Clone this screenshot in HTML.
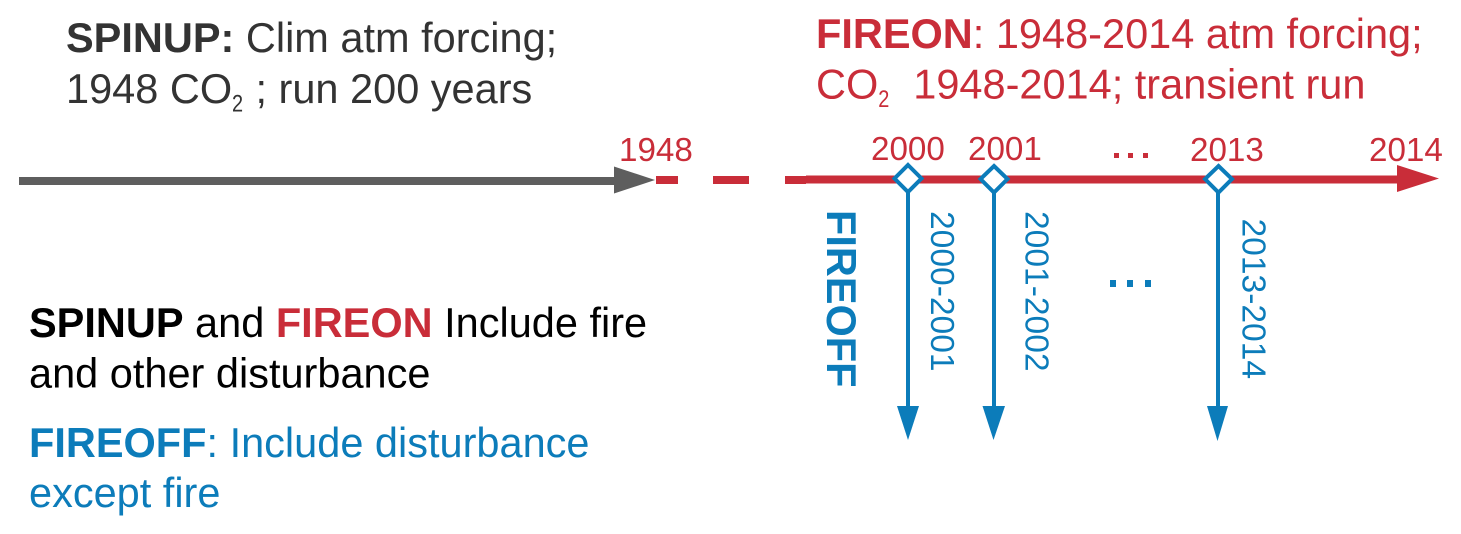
<!DOCTYPE html>
<html>
<head>
<meta charset="utf-8">
<style>
html,body{margin:0;padding:0;background:#fff;width:1461px;height:534px;overflow:hidden}
svg{display:block}
text{font-family:"Liberation Sans",sans-serif;white-space:pre}
</style>
</head>
<body>
<svg width="1461" height="534" viewBox="0 0 1461 534" xmlns="http://www.w3.org/2000/svg">
<rect width="1461" height="534" fill="#fff"/>

<!-- top-left text -->
<g font-size="41.500" fill="#333333">
<text x="66" y="52"><tspan font-weight="bold">SPINUP:</tspan> Clim atm forcing;</text>
<text x="66" y="103">1948 CO<tspan x="243.950"> ; run 200 years</tspan></text>
<text font-size="24" transform="translate(232,111.500) scale(.83,1)">2</text>
</g>

<!-- top-right text -->
<g font-size="41.500" fill="#c92d39">
<text x="816" y="48"><tspan font-weight="bold">FIREON</tspan>: 1948-2014 atm forcing;</text>
<text x="816" y="98.500">CO<tspan x="890.200">  1948-2014; transient run</tspan></text>
<text font-size="24" transform="translate(878.250,107) scale(.83,1)">2</text>
</g>

<!-- bottom-left text -->
<g font-size="41.500">
<text x="29" y="337" fill="#000"><tspan font-weight="bold">SPINUP</tspan> and <tspan font-weight="bold" fill="#c92d39">FIREON</tspan> Include fire</text>
<text x="29" y="387.500" fill="#000">and other disturbance</text>
<text x="29" y="457" fill="#0c7cba"><tspan font-weight="bold">FIREOFF</tspan>: Include disturbance</text>
<text x="29" y="507" fill="#0c7cba">except fire</text>
</g>

<!-- grey arrow -->
<rect x="19" y="177" width="597" height="8" fill="#5e5e5e"/>
<polygon points="614,166.500 655,180 614,193.500" fill="#5e5e5e"/>

<!-- red dashes + line -->
<rect x="656" y="176" width="22" height="8" fill="#c92d39"/>
<rect x="713" y="176" width="36" height="8" fill="#c92d39"/>
<rect x="785" y="176" width="21" height="8" fill="#c92d39"/>
<rect x="806" y="175.500" width="594" height="8" fill="#c92d39"/>
<polygon points="1397,165 1439,178.500 1397,192" fill="#c92d39"/>

<!-- blue arrows -->
<g fill="#0c7cba">
<rect x="906" y="190" width="4" height="220"/>
<polygon points="897,406 919,406 908,440"/>
<rect x="992" y="190" width="4" height="220"/>
<polygon points="982.500,406 1005,406 993.500,440"/>
<rect x="1216" y="190" width="4" height="220"/>
<polygon points="1207,406 1228,406 1217.500,441"/>
</g>

<!-- diamonds -->
<g fill="#fff" stroke="#0c7cba" stroke-width="4">
<polygon points="908,165 921.500,178.500 908,192 894.500,178.500"/>
<polygon points="994,166 1007.500,179 994,192.500 980.500,179"/>
<polygon points="1218.500,166 1232,179 1218.500,192.500 1205,179"/>
</g>

<!-- year labels -->
<g font-size="33.200" fill="#c92d39">
<text x="619" y="161">1948</text>
<text x="871" y="160">2000</text>
<text x="968" y="160">2001</text>
<text x="1190" y="161">2013</text>
<text x="1369" y="161">2014</text>
<rect x="1114" y="153" width="5" height="5"/>
<rect x="1128" y="153" width="5" height="5"/>
<rect x="1143" y="153" width="5" height="5"/>
</g>

<!-- rotated labels -->
<g fill="#0c7cba">
<text font-size="41.500" font-weight="bold" transform="translate(827,210) rotate(90)">FIREOFF</text>
<g font-size="33.600">
<text transform="translate(931,211) rotate(90)">2000-2001</text>
<text transform="translate(1025.500,211) rotate(90)">2001-2002</text>
<text transform="translate(1242.500,218.500) rotate(90)">2013-2014</text>
</g>
<rect x="1110" y="280" width="6" height="7"/>
<rect x="1127" y="280" width="6" height="7"/>
<rect x="1145" y="280" width="6" height="7"/>
</g>
</svg>
</body>
</html>
